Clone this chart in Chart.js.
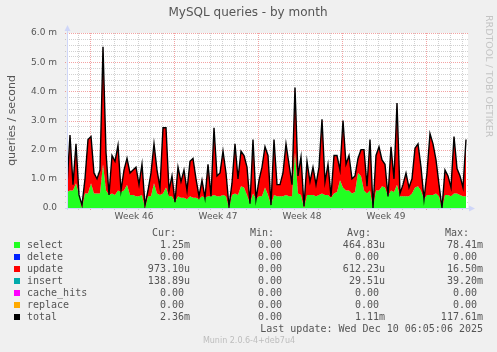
<!DOCTYPE html>
<html>
<head>
<meta charset="utf-8">
<script src="https://cdn.jsdelivr.net/npm/chart.js@4.4.1/dist/chart.umd.min.js"></script>
<style>
  html, body { margin: 0; padding: 0; background: #f0f0f0; }
  #wrap { width: 497px; height: 352px; }
</style>
</head>
<body>
<div id="wrap"><canvas id="queriesChart" width="497" height="352"></canvas></div>
<script>
// milli-queries / second, one sample every 6 hours, oldest first
const selectQueries = [
  0.55, 0.6, 0.6, 0.85, 0.45, 0.0, 0.5, 0.5, 0.85, 0.5,
  0.5, 0.5, 1.5, 0.6, 0.45, 0.5, 0.45, 0.6, 0.55, 0.6,
  0.8, 0.45, 0.45, 0.4, 0.4, 0.45, 0.0, 0.4, 0.4, 0.85,
  0.5, 0.45, 0.5, 0.7, 0.4, 0.4, 0.2, 0.4, 0.35, 0.35,
  0.3, 0.4, 0.35, 0.35, 0.3,
  0.4, 0.35, 0.4, 0.4, 0.45, 0.4, 0.4, 0.45, 0.4, 0.0,
  0.45, 0.5, 0.45, 0.75, 0.7, 0.45, 0.15, 0.5, 0.3, 0.4,
  0.4, 0.7, 0.45, 0.1, 0.45, 0.4, 0.4, 0.4, 0.45, 0.4,
  0.4, 1.9, 0.5, 0.45, 0.0, 0.45, 0.45, 0.45, 0.4, 0.45,
  0.5, 0.45, 0.45, 0.35, 0.5,
  0.55, 0.95, 0.7, 0.6, 0.6, 0.5, 0.55, 1.2, 1.1, 0.6,
  0.5, 0.6, 0.0, 0.6, 0.6, 0.75, 0.7, 0.4, 0.6, 0.55,
  0.8, 0.4, 0.4, 0.4, 0.4, 0.5, 0.7, 0.75, 0.6, 0.3,
  0.45, 0.45, 0.45, 0.5, 0.4, 0.0, 0.45, 0.45, 0.4, 0.5,
  0.5, 0.45, 0.4, 0.4
];

const totalQueries = [
  0.75, 2.5, 0.8, 2.2, 0.45, 0.1, 1.0, 2.35, 2.45, 1.2,
  1.0, 1.3, 5.53, 1.9, 0.45, 1.8, 1.6, 2.15, 0.6, 1.3,
  1.7, 1.2, 1.3, 1.4, 0.8, 1.5, 0.1, 0.6, 1.2, 2.2,
  1.3, 0.7, 2.75, 2.75, 0.6, 1.1, 0.2, 1.4, 0.9, 1.3,
  0.6, 1.6, 1.7, 1.0, 0.4,
  0.95, 0.35, 1.5, 0.4, 2.75, 1.1, 1.2, 1.95, 1.2, 0.05,
  0.85, 2.2, 1.0, 1.95, 1.8, 1.4, 0.15, 2.35, 0.3, 0.95,
  1.4, 2.1, 1.8, 0.1, 2.35, 0.8, 0.8, 1.2, 2.2, 1.5,
  0.8, 4.13, 1.1, 1.75, 0.05, 1.6, 0.9, 1.4, 0.8, 1.4,
  3.04, 0.9, 1.5, 0.4, 1.8,
  1.8, 1.3, 3.0, 1.5, 1.8, 1.0, 1.1, 1.7, 2.0, 2.0,
  0.75, 2.35, 0.0, 1.8, 2.1, 1.65, 1.5, 0.4, 2.1, 1.0,
  3.6, 0.5, 0.8, 1.2, 0.7, 1.0, 2.05, 2.2, 1.4, 0.3,
  1.2, 2.55, 2.2, 1.65, 0.8, 0.0, 1.3, 1.1, 0.7, 2.45,
  1.35, 1.1, 0.7, 2.35
];

const weekLabels = ['Week 46', 'Week 47', 'Week 48', 'Week 49'];
const yTickValues = [0, 1, 2, 3, 4, 5, 6];
const yTickLabels = ['0.0', '1.0 m', '2.0 m', '3.0 m', '4.0 m', '5.0 m', '6.0 m'];

const legendNames = ['select', 'delete', 'update', 'insert', 'cache_hits', 'replace', 'total'];
const legendColors = ['#22ff22', '#0022ff', '#ff0000', '#00aaaa', '#ff00ff', '#ffaa00', '#000000'];
const curValues = ['1.25m', '0.00', '973.10u', '138.89u', '0.00', '0.00', '2.36m'];
const minValues = ['0.00', '0.00', '0.00', '0.00', '0.00', '0.00', '0.00'];
const avgValues = ['464.83u', '0.00', '612.23u', '29.51u', '0.00', '0.00', '1.11m'];
const maxValues = ['78.41m', '0.00', '16.50m', '39.20m', '0.00', '0.00', '117.61m'];

const stepDays = 0.25;     // 6 hour samples
const spanDays = 33.4167;  // visible range
const firstMonday = 1.92;  // first week boundary, days from left edge

const FONT = '#555';
const SANS = '"DejaVu Sans", sans-serif';
const MONO = '"DejaVu Sans Mono", monospace';

const toPoints = arr => arr.map((v, i) => ({ x: i * stepDays, y: v }));

const muninPlugin = {
  id: 'munin',
  beforeDraw(chart) {
    const { ctx, chartArea: a } = chart;
    ctx.save();
    ctx.fillStyle = '#f0f0f0';
    ctx.fillRect(0, 0, chart.width, chart.height);
    ctx.fillStyle = '#ffffff';
    ctx.fillRect(a.left, a.top, a.right - a.left, a.bottom - a.top);
    ctx.restore();
  },
  beforeDatasetsDraw(chart) {
    const { ctx, chartArea: a, scales } = chart;
    const xs = scales.x, ys = scales.y;
    ctx.save();
    ctx.lineWidth = 1;
    ctx.setLineDash([1, 1]);
    // horizontal grid
    for (let k = 1; k <= 30; k++) {
      const y = Math.round(ys.getPixelForValue(k / 5)) + 0.5;
      ctx.strokeStyle = k % 5 === 0 ? 'rgba(225,26,26,0.4)' : 'rgba(140,140,140,0.4)';
      ctx.beginPath();
      ctx.moveTo(a.left - 2, y);
      ctx.lineTo(a.right + 1, y);
      ctx.stroke();
    }
    // vertical grid, one line a day, red on week boundaries
    for (let k = -7; k <= 35; k++) {
      const d = firstMonday + k;
      if (d <= 0 || d > spanDays) continue;
      const x = Math.round(xs.getPixelForValue(d)) + 0.5;
      ctx.strokeStyle = k % 7 === 0 ? 'rgba(225,26,26,0.4)' : 'rgba(140,140,140,0.4)';
      ctx.beginPath();
      ctx.moveTo(x, a.top);
      ctx.lineTo(x, a.bottom + 2);
      ctx.stroke();
    }
    ctx.restore();
  },
  afterDatasetsDraw(chart) {
    const { ctx, chartArea: a } = chart;
    ctx.save();
    ctx.strokeStyle = '#cfd6f8';
    ctx.fillStyle = '#cfd6f8';
    ctx.lineWidth = 1;
    const x0 = a.left + 0.5, y0 = a.bottom + 0.5;
    ctx.beginPath();
    ctx.moveTo(x0, a.bottom + 2);
    ctx.lineTo(x0, a.top - 4);
    ctx.moveTo(a.left - 2, y0);
    ctx.lineTo(a.right + 2, y0);
    ctx.stroke();
    ctx.beginPath();
    ctx.moveTo(x0, a.top - 8);
    ctx.lineTo(x0 - 3, a.top - 2);
    ctx.lineTo(x0 + 3, a.top - 2);
    ctx.closePath();
    ctx.fill();
    ctx.beginPath();
    ctx.moveTo(a.right + 7, y0);
    ctx.lineTo(a.right + 1, y0 - 3);
    ctx.lineTo(a.right + 1, y0 + 3);
    ctx.closePath();
    ctx.fill();
    ctx.restore();
  },
  afterDraw(chart) {
    const { ctx, chartArea: a } = chart;
    ctx.save();
    ctx.fillStyle = FONT;
    ctx.textBaseline = 'middle';

    ctx.font = '12px ' + SANS;
    ctx.textAlign = 'center';
    ctx.fillText('MySQL queries - by month', 248, 13);

    ctx.save();
    ctx.translate(12, (a.top + a.bottom) / 2);
    ctx.rotate(-Math.PI / 2);
    ctx.font = '11px ' + SANS;
    ctx.fillText('queries / second', 0, 0);
    ctx.restore();

    ctx.save();
    ctx.translate(488, 15);
    ctx.rotate(Math.PI / 2);
    ctx.fillStyle = '#c4c4c4';
    ctx.font = '9.5px ' + SANS;
    ctx.textAlign = 'left';
    ctx.fillText('RRDTOOL / TOBI OETIKER', 0, 0);
    ctx.restore();

    // legend table
    ctx.font = '10px ' + MONO;
    ctx.textAlign = 'right';
    const headY = 233;
    ctx.fillText('Cur:', 176, headY);
    ctx.fillText('Min:', 274, headY);
    ctx.fillText('Avg:', 371, headY);
    ctx.fillText('Max:', 469, headY);
    const pad = v => (/[a-z]$/i.test(v) ? v : v + ' ');
    legendNames.forEach((name, i) => {
      const y = 245 + i * 12;
      ctx.fillStyle = legendColors[i];
      ctx.fillRect(14, y - 3, 6, 6);
      ctx.fillStyle = FONT;
      ctx.textAlign = 'left';
      ctx.fillText(name, 27, y);
      ctx.textAlign = 'right';
      ctx.fillText(pad(curValues[i]), 190, y);
      ctx.fillText(pad(minValues[i]), 288, y);
      ctx.fillText(pad(avgValues[i]), 385, y);
      ctx.fillText(pad(maxValues[i]), 483, y);
    });
    ctx.fillText('Last update: Wed Dec 10 06:05:06 2025', 483, 329);

    ctx.font = '8px ' + SANS;
    ctx.textAlign = 'center';
    ctx.fillStyle = '#bdbdbd';
    ctx.fillText('Munin 2.0.6-4+deb7u4', 249, 341);
    ctx.restore();
  }
};

const ctx = document.getElementById('queriesChart').getContext('2d');

new Chart(ctx, {
  type: 'line',
  data: {
    datasets: [
      {
        label: 'select',
        data: toPoints(selectQueries),
        backgroundColor: '#22ff22',
        borderWidth: 0,
        fill: 'origin',
        order: 2
      },
      {
        label: 'total',
        data: toPoints(totalQueries),
        borderColor: '#000000',
        backgroundColor: '#ff0000',
        borderWidth: 1.4,
        fill: '-1',
        order: 1
      }
    ]
  },
  options: {
    responsive: false,
    devicePixelRatio: 1,
    animation: false,
    layout: { padding: { left: 0, top: 33, right: 29, bottom: 124 } },
    elements: { point: { radius: 0 }, line: { tension: 0 } },
    plugins: { legend: { display: false }, tooltip: { enabled: false } },
    scales: {
      x: {
        type: 'linear',
        min: 0,
        max: spanDays,
        grid: { display: false, drawTicks: false },
        border: { display: false },
        afterFit: s => { s.height = 20; },
        afterBuildTicks: s => {
          s.ticks = weekLabels.map((_, k) => ({ value: firstMonday + 3.67 + 7 * k }));
        },
        ticks: {
          autoSkip: false,
          maxRotation: 0,
          padding: 3,
          color: FONT,
          font: { family: SANS, size: 9 },
          callback: (v, i) => weekLabels[i]
        }
      },
      y: {
        min: 0,
        max: 6,
        grid: { display: false, drawTicks: false },
        border: { display: false },
        afterFit: s => { s.width = 67; },
        afterBuildTicks: s => {
          s.ticks = yTickValues.map(v => ({ value: v }));
        },
        ticks: {
          padding: 10,
          color: FONT,
          font: { family: SANS, size: 9 },
          callback: (v, i) => yTickLabels[i]
        }
      }
    }
  },
  plugins: [muninPlugin]
});
</script>
</body>
</html>
